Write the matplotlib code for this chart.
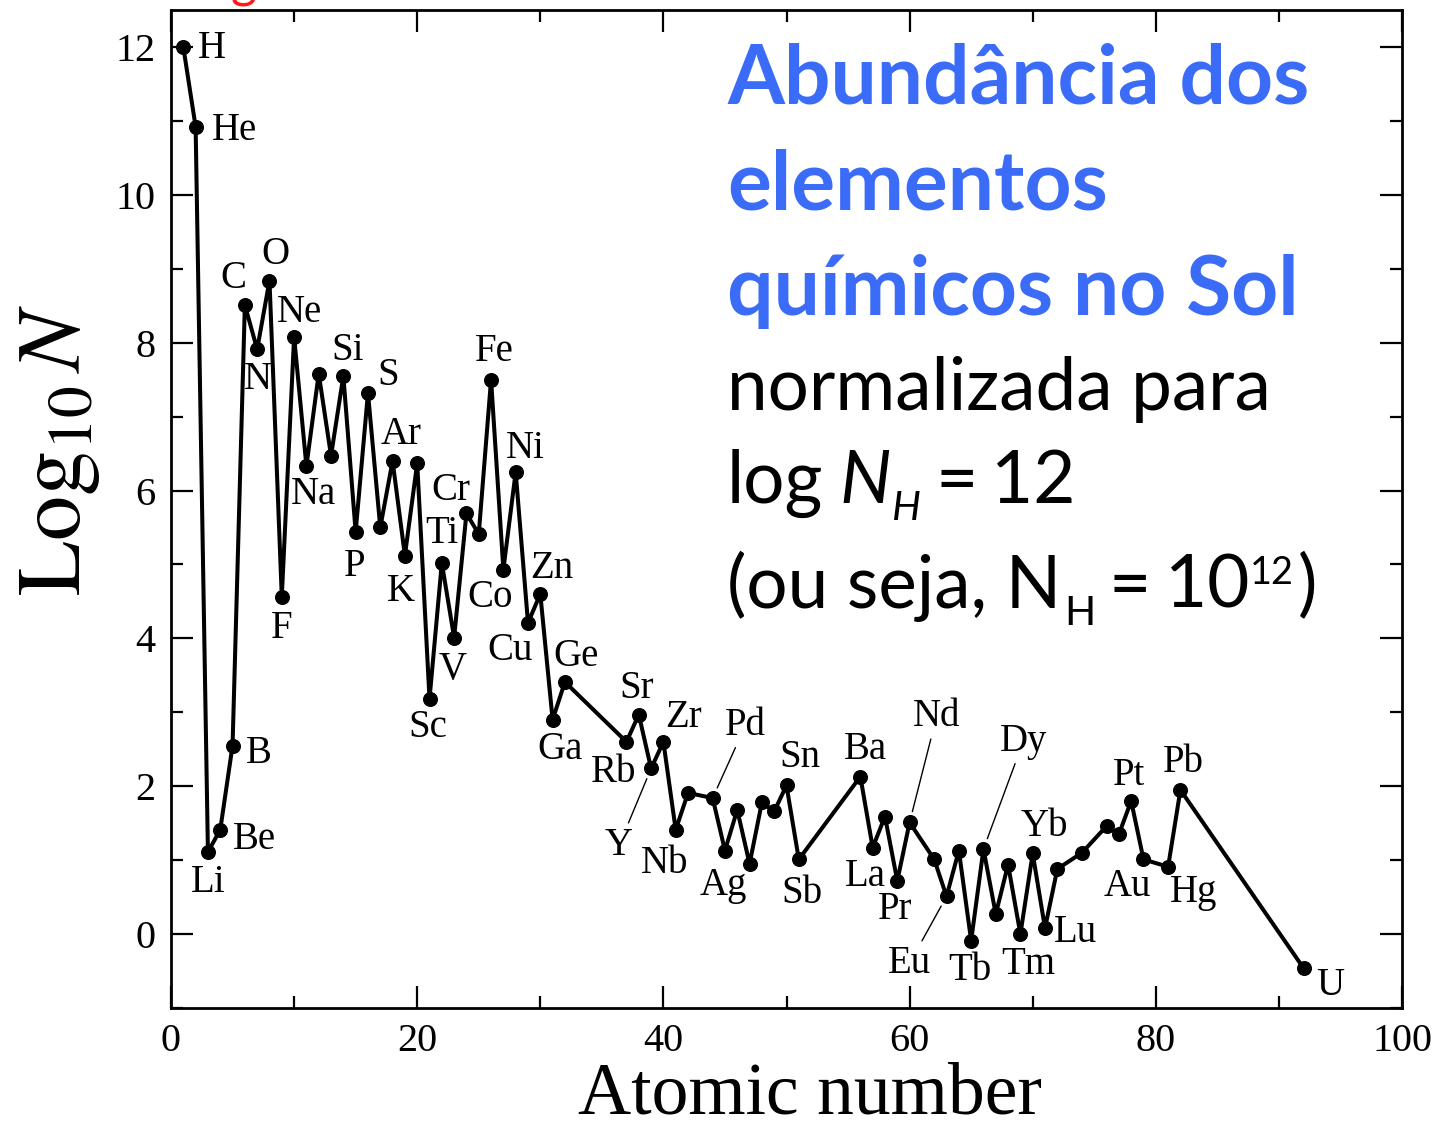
import matplotlib
matplotlib.use("Agg")
import matplotlib.pyplot as plt
from matplotlib.ticker import MultipleLocator

# Solar abundances, log10 N normalised to log N_H = 12
atomic_number = [1, 2, 3, 4, 5, 6, 7, 8, 9, 10, 11, 12, 13, 14, 15, 16, 17, 18, 19, 20,
                 21, 22, 23, 24, 25, 26, 27, 28, 29, 30, 31, 32, 37, 38, 39, 40, 41, 42,
                 44, 45, 46, 47, 48, 49, 50, 51, 56, 57, 58, 59, 60, 62, 63, 64, 65, 66,
                 67, 68, 69, 70, 71, 72, 74, 76, 77, 78, 79, 81, 82, 92]
log_abundance = [12.00, 10.92, 1.11, 1.41, 2.55, 8.51, 7.91, 8.84, 4.56, 8.08,
                 6.33, 7.58, 6.47, 7.55, 5.44, 7.32, 5.50, 6.40, 5.12, 6.37,
                 3.18, 5.02, 4.01, 5.69, 5.41, 7.50, 4.93, 6.25, 4.21, 4.60,
                 2.90, 3.41, 2.60, 2.97, 2.24, 2.60, 1.41, 1.91,
                 1.84, 1.13, 1.68, 0.95, 1.78, 1.66, 2.01, 1.01,
                 2.13, 1.17, 1.59, 0.72, 1.51, 1.01, 0.51, 1.13, -0.09, 1.15,
                 0.27, 0.94, 0.00, 1.09, 0.08, 0.88, 1.10, 1.46, 1.35, 1.80,
                 1.01, 0.91, 1.95, -0.46]

# Labels written next to points: (atomic number of the point, text)
point_labels = [(1, "H"), (2, "He"), (3, "Li"), (4, "Be"), (5, "B"), (6, "C"), (7, "N"),
                (8, "O"), (9, "F"), (10, "Ne"), (11, "Na"), (14, "Si"), (15, "P"),
                (16, "S"), (18, "Ar"), (19, "K"), (21, "Sc"), (22, "Ti"), (23, "V"),
                (24, "Cr"), (26, "Fe"), (27, "Co"), (28, "Ni"), (29, "Cu"), (30, "Zn"),
                (31, "Ga"), (32, "Ge"), (37, "Rb"), (38, "Sr"), (39, "Y"), (40, "Zr"),
                (41, "Nb"), (44, "Pd"), (47, "Ag"), (50, "Sn"), (51, "Sb"), (56, "Ba"),
                (57, "La"), (59, "Pr"), (60, "Nd"), (63, "Eu"), (65, "Tb"), (66, "Dy"),
                (69, "Tm"), (70, "Yb"), (71, "Lu"), (78, "Pt"), (79, "Au"), (81, "Hg"),
                (82, "Pb"), (92, "U")]

# Label offsets from the point, in pixels (x right, y up)
label_offset = {
    "H": (29, -2), "He": (39, -4), "Li": (0, -30), "Be": (34, -10), "B": (26, -8),
    "C": (-11, 26), "N": (1, -30), "O": (6, 26), "F": (0, -32), "Ne": (5, 24),
    "Na": (7, -28), "Si": (4, 25), "S": (20, 17), "P": (-1, -35), "Ar": (8, 26),
    "K": (-4, -36), "Cr": (-16, 23), "Ti": (0, 29), "Sc": (-2, -29), "V": (-2, -32),
    "Fe": (3, 28), "Ni": (10, 24), "Co": (-13, -28), "Zn": (12, 26), "Cu": (-18, -28),
    "Ge": (11, 25), "Ga": (7, -30), "Sr": (-2, 26), "Rb": (-13, -31), "Zr": (20, 24),
    "Y": (-32, -77), "Nb": (-11, -34), "Pd": (33, 73), "Ag": (-26, -22),
    "Sn": (13, 28), "Sb": (3, -34), "Ba": (5, 27), "La": (-7, -29), "Pr": (-2, -29),
    "Nd": (27, 106), "Eu": (-37, -67), "Tb": (-1, -30), "Tm": (8, -30),
    "Dy": (40, 108), "Yb": (12, 27), "Lu": (30, -4), "Pt": (-2, 26), "Au": (-16, -27),
    "Hg": (25, -26), "Pb": (3, 27), "U": (27, -17),
}
leader_labels = {"Y", "Pd", "Nd", "Eu", "Dy"}

x_ticks = [0, 20, 40, 60, 80, 100]
y_ticks = [0, 2, 4, 6, 8, 10, 12]

W, H = 1435, 1131
fig = plt.figure(figsize=(W / 100, H / 100), dpi=100)
fig.patch.set_facecolor("white")
renderer = fig.canvas.get_renderer()

ax = fig.add_axes([171 / W, 1 - 1008 / H, (1402 - 171) / W, (1008 - 10) / H])
serif = "Liberation Serif"

ax.plot(atomic_number, log_abundance, "-o", color="black", lw=2.9, ms=9.8,
        clip_on=False, zorder=3)

ax.set_xlim(0, 100)
ax.set_ylim(-1, 12.5)
ax.set_xticks(x_ticks)
ax.set_yticks(y_ticks)
ax.xaxis.set_minor_locator(MultipleLocator(10))
ax.yaxis.set_minor_locator(MultipleLocator(1))
ax.tick_params(which="both", direction="in", top=True, right=True, width=1.6)
ax.tick_params(which="major", length=16)
ax.tick_params(which="minor", length=8.5)
ax.tick_params(axis="x", which="major", pad=11)
ax.tick_params(axis="y", which="major", pad=11)
for lab in ax.get_xticklabels() + ax.get_yticklabels():
    lab.set_fontfamily(serif)
    lab.set_fontsize(29)
for sp in ax.spines.values():
    sp.set_linewidth(2.0)

z_to_y = dict(zip(atomic_number, log_abundance))
for z, text in point_labels:
    dx, dy = label_offset[text]
    kw = {}
    if text in leader_labels:
        kw["arrowprops"] = dict(arrowstyle="-", lw=1.0, color="black",
                                shrinkA=1, shrinkB=8)
    ax.annotate(text, (z, z_to_y[z]), xytext=(dx, dy), textcoords="offset pixels",
                ha="center", va="center", fontsize=28, family=serif,
                annotation_clip=False, **kw)

fig.text(810 / W, 1 - 1114 / H, "Atomic number", family=serif, fontsize=53,
         ha="center", va="baseline")
fig.text(58 / W, 1 - 450 / H, r"$\mathrm{Log}_{10}\,N$", rotation=90,
         ha="center", va="center", fontsize=65, math_fontfamily="stix")

# Title block on the right
blue = "#3b6cf8"
for text, base in [("Abundância dos", 103), ("elementos", 210), ("químicos no Sol", 315)]:
    fig.text(727 / W, 1 - base / H, text, family="Lato", weight="bold",
             fontsize=59, color=blue, ha="left", va="baseline")


def text_run(x0, base, parts, size=52.5):
    """Write pieces one after another on a line; each piece is
    (text, style, relative size, gap before in px, baseline shift in px)."""
    x = x0
    for txt, style, rel, gap, shift in parts:
        x += gap
        t = fig.text(x / W, 1 - (base - shift) / H, txt, family="Lato",
                     style=style, fontsize=size * rel, color="black",
                     ha="left", va="baseline")
        x = t.get_window_extent(renderer).x1


text_run(727, 410, [("normalizada para", "normal", 1.0, 0, 0)])
text_run(727, 503, [("log", "normal", 1.0, 0, 0),
                    ("N", "italic", 1.0, 16, 0),
                    ("H", "italic", 0.56, 1, -17),
                    ("=", "normal", 1.0, 14, 0),
                    ("12", "normal", 1.0, 14, 0)])
text_run(727, 608, [("(ou seja, N", "normal", 1.0, 0, 0),
                    ("H", "normal", 0.56, 3, -17),
                    ("=", "normal", 1.0, 13, 0),
                    ("10", "normal", 1.0, 14, 0),
                    ("12", "normal", 0.52, 1, 24),
                    (")", "normal", 1.0, 3, 0)])

# Red caption above the frame, cut by the top edge
fig.text(244 / W, 1 + 4 / H, "g", family="Lato", fontsize=36, color="#ff1a1a",
         ha="center", va="baseline")

fig.savefig("out.png", dpi=100, facecolor="white")
